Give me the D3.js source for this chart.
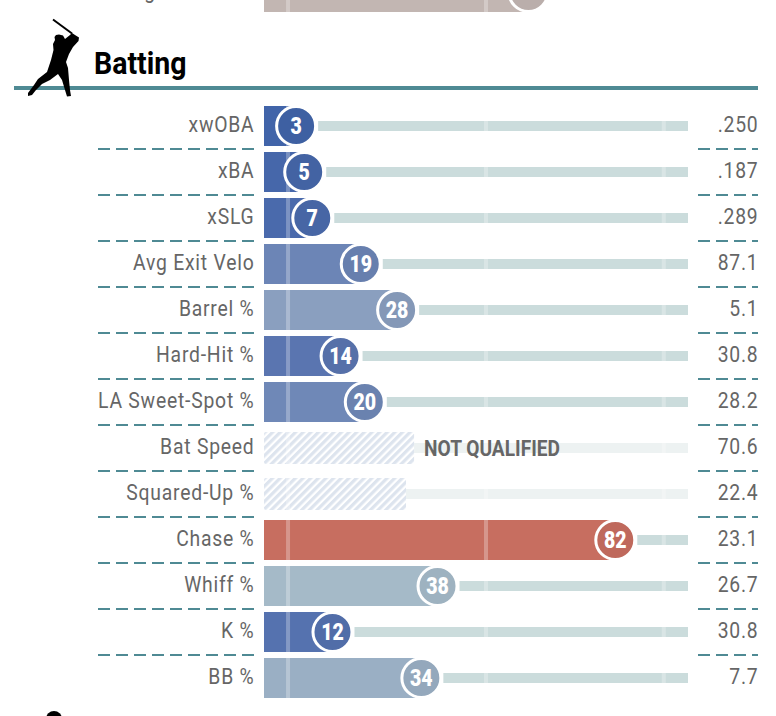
<!DOCTYPE html>
<html>
<head>
<meta charset="utf-8">
<script src="https://cdn.jsdelivr.net/npm/d3@7"></script>
<style>
  html, body { margin: 0; padding: 0; background: #fff; overflow: hidden; }
  text { font-family: Roboto, sans-serif; }
</style>
</head>
<body>
<div id="chart"></div>
<script>
// Batting percentile rows
const metrics = ["xwOBA", "xBA", "xSLG", "Avg Exit Velo", "Barrel %", "Hard-Hit %", "LA Sweet-Spot %",
  "Bat Speed", "Squared-Up %", "Chase %", "Whiff %", "K %", "BB %"];
const percentiles = [3, 5, 7, 19, 28, 14, 20, 32.2, 30.2, 82, 38, 12, 34];
const qualified = [true, true, true, true, true, true, true, false, false, true, true, true, true];
const rawValues = [".250", ".187", ".289", "87.1", "5.1", "30.8", "28.2", "70.6", "22.4", "23.1", "26.7", "30.8", "7.7"];
const guideTicks = [1, 50, 94];

// last row of the section above, mostly cut off by the top of the window
const prevLabel = "Fielding Run Value";
const prevPercentile = 60.5;

const width = 776;
const height = 716;

const svg = d3.select("#chart").append("svg")
    .attr("width", width)
    .attr("height", height)
    .style("display", "block");

const x = d3.scaleLinear().domain([0, 100]).range([284, 688]);
const y = d3.scaleBand().domain(metrics).range([106, 698]).paddingInner(6 / 46);

const barLeft = 264;
const bubbleR = 18;

const color = d3.scaleLinear()
    .domain([3, 14, 20, 28, 38, 60, 82])
    .range(["#4164a9", "#5a75b0", "#6f88b7", "#8a9fbf", "#a5bac8", "#c2b8b4", "#c76e60"]);

// Roboto squeezed sideways and spaced out, the condensed cut is not available
function label(parent, tx, ty, str, size, opts = {}) {
  return parent.append("text")
      .attr("transform", `translate(${tx},${ty}) scale(${opts.sx || 0.86},1)`)
      .attr("text-anchor", opts.anchor || "end")
      .attr("font-size", size)
      .attr("font-weight", opts.weight || 400)
      .attr("letter-spacing", opts.ls === undefined ? 0.9 : opts.ls)
      .attr("fill", opts.fill || "#666")
      .text(str);
}

const defs = svg.append("defs");
defs.append("pattern")
    .attr("id", "hatch")
    .attr("width", 5.4)
    .attr("height", 5.4)
    .attr("patternUnits", "userSpaceOnUse")
    .attr("patternTransform", "rotate(45)")
    .append("rect")
    .attr("width", 3.2)
    .attr("height", 5.4)
    .attr("fill", "#dde4ee");

function ticks(parent, top, h, from, to) {
  parent.selectAll(null)
      .data(guideTicks.filter(t => x(t) > from && x(t) < to))
      .join("rect")
      .attr("x", d => x(d) - 2)
      .attr("y", top)
      .attr("width", 4)
      .attr("height", h)
      .attr("fill", "#fff")
      .attr("opacity", 0.28);
}

function bubble(parent, cx, cy, p) {
  parent.append("circle")
      .attr("cx", cx)
      .attr("cy", cy)
      .attr("r", bubbleR + 1.5)
      .attr("fill", d3.color(color(p)).darker(0.12))
      .attr("stroke", "#fff")
      .attr("stroke-width", 3);
}

// piece of the previous section
const prev = svg.append("g");
label(prev, 254.5, -2, prevLabel, 22.5);
prev.append("rect")
    .attr("x", barLeft).attr("y", -28)
    .attr("width", x(prevPercentile) - barLeft).attr("height", 40)
    .attr("fill", color(prevPercentile));
ticks(prev, -28, 40, barLeft, x(prevPercentile));
bubble(prev, x(prevPercentile), -8, prevPercentile);

// section header
svg.append("rect")
    .attr("x", 14).attr("y", 86)
    .attr("width", 744).attr("height", 4)
    .attr("fill", "#4f8a94");

label(svg, 94, 74, "Batting", 31, { anchor: "start", weight: 700, fill: "#000", sx: 0.92, ls: 0 });

// batter silhouette
const batter = svg.append("g");
batter.append("line")
    .attr("x1", 53).attr("y1", 19.5).attr("x2", 72).attr("y2", 33.5)
    .attr("stroke", "#000").attr("stroke-width", 2);
batter.append("path")
    .attr("fill", "#000")
    .attr("d", "M59,34.5 L63,35.5 L65,39 L70,35 L72,33 L75,35 L79,37.5 L78.5,41 L73,47 L69,54 L66,62 L68,68 L69,80 L70,90 L71,96 L67,96.5 L65,90 L62,80 L58,74 L50,80 L42,84 L36,90 L32,95 L28,96 L28,93 L34,85 L38,79 L47,72 L51,60 L53.5,50 L53,44 L55,40 L54.5,37 L56,35 Z");

// head of the next section's icon
svg.append("circle")
    .attr("cx", 54).attr("cy", 719).attr("r", 8).attr("fill", "#000");

// dashed row separators
const seps = svg.append("g");
metrics.slice(0, -1).forEach(m => {
  const sy = y(m) + y.bandwidth() + 3;
  [[98, 254], [698, 758]].forEach(([a, b]) => {
    seps.append("line")
        .attr("x1", a).attr("x2", b)
        .attr("y1", sy).attr("y2", sy)
        .attr("stroke", "#4f8a94")
        .attr("stroke-width", 2)
        .attr("stroke-dasharray", "12 6");
  });
});

const rows = svg.selectAll("g.row")
    .data(metrics)
    .join("g")
    .attr("class", "row");

rows.each(function(m, i) {
  const g = d3.select(this);
  const top = y(m);
  const cy = top + y.bandwidth() / 2;
  const p = percentiles[i];
  const cx = x(p);

  label(g, 254.5, cy + 6, m, 22.5);
  label(g, 758.5, cy + 6, rawValues[i], 22.5);

  if (qualified[i]) {
    g.append("rect")
        .attr("x", cx + 22).attr("y", cy - 5)
        .attr("width", x(100) - cx - 22).attr("height", 10)
        .attr("fill", "#cbdcdc");
    ticks(g, cy - 5, 10, cx + 22, x(100));
    g.append("rect")
        .attr("x", barLeft).attr("y", top)
        .attr("width", cx - barLeft).attr("height", y.bandwidth())
        .attr("fill", color(p));
    ticks(g, top, y.bandwidth(), barLeft, cx);
    bubble(g, cx, cy, p);
    label(g, cx, cy + 8.2, p, 23, { anchor: "middle", weight: 900, fill: "#fff", sx: 0.85, ls: 0 });
  } else {
    g.append("rect")
        .attr("x", cx).attr("y", cy - 5)
        .attr("width", x(100) - cx).attr("height", 10)
        .attr("fill", "#edf2f2");
    ticks(g, cy - 5, 10, cx, x(100));
    g.append("rect")
        .attr("x", barLeft).attr("y", cy - 16)
        .attr("width", cx - barLeft).attr("height", 32)
        .attr("rx", 2)
        .attr("fill", "url(#hatch)");
    ticks(g, cy - 16, 32, barLeft, cx);
    if (i === metrics.indexOf("Bat Speed")) {
      label(g, cx + 10, cy + 8, "NOT QUALIFIED", 22, { anchor: "start", weight: 700, sx: 0.87, ls: 0 });
    }
  }
});
</script>
</body>
</html>
